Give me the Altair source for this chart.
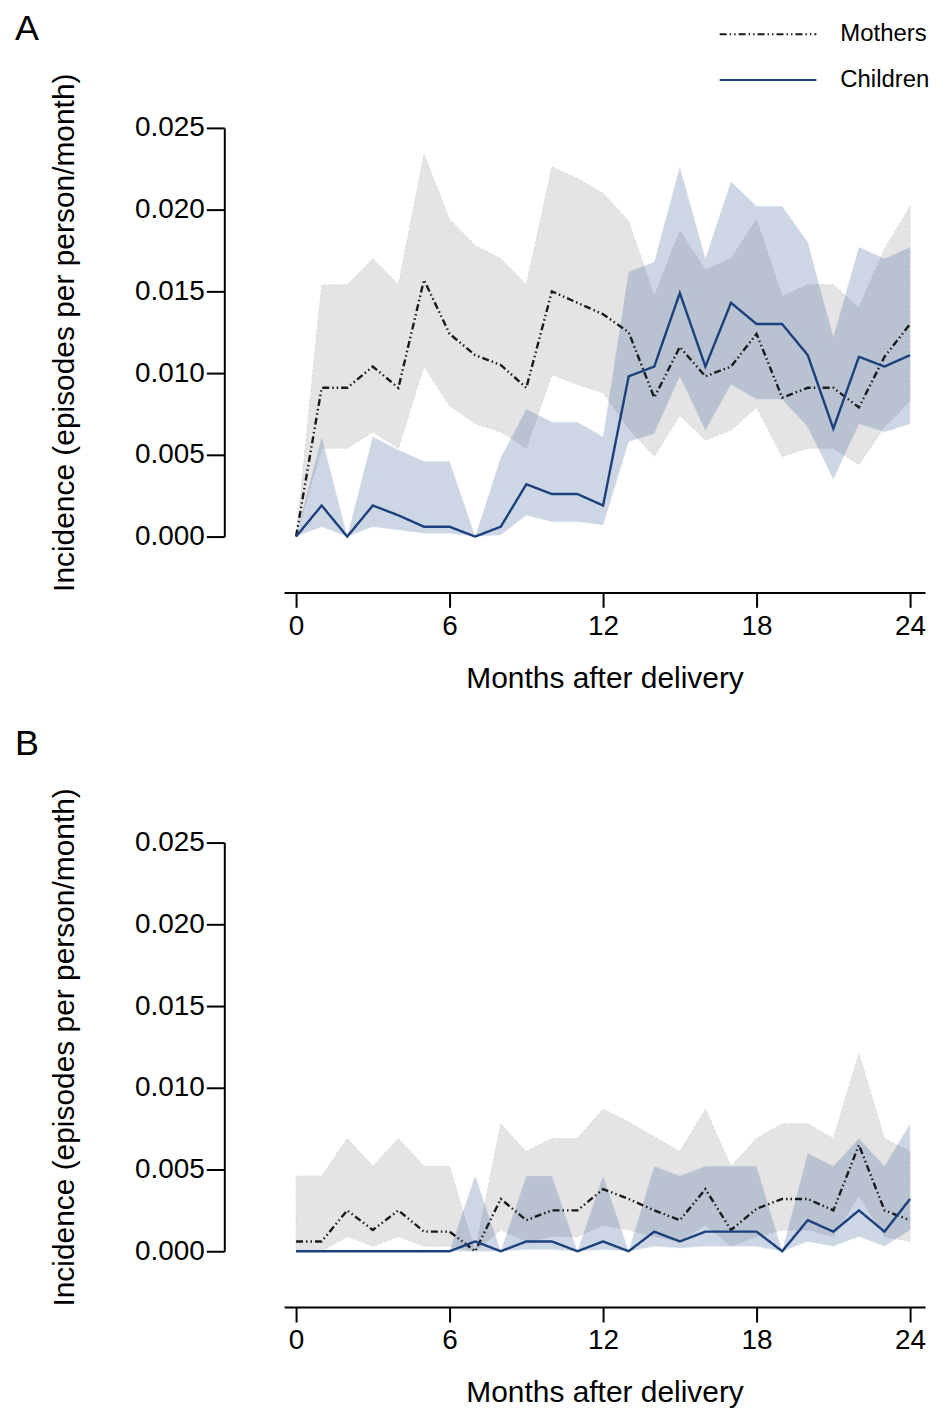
import altair as alt
import pandas as pd

months = list(range(25))
groups = ["Mothers", "Children"]
x_ticks = [0, 6, 12, 18, 24]
y_ticks = [0.0, 0.005, 0.010, 0.015, 0.020, 0.025]

# Panel A
a_mothers = [0, 0.0091, 0.0091, 0.0104, 0.0091, 0.0157, 0.0124, 0.0111, 0.0105, 0.0091, 0.0150, 0.0143, 0.0136,
             0.0125, 0.0085, 0.0116, 0.0098, 0.0104, 0.0124, 0.0085, 0.0091, 0.0091, 0.0079, 0.0110, 0.0130]
a_mothers_hi = [0, 0.0154, 0.0154, 0.0170, 0.0154, 0.0234, 0.0194, 0.0178, 0.0170, 0.0154, 0.0226, 0.0219, 0.0210,
                0.0193, 0.0147, 0.0187, 0.0163, 0.0170, 0.0194, 0.0147, 0.0154, 0.0154, 0.0140, 0.0176, 0.0202]
a_mothers_lo = [0, 0.0054, 0.0054, 0.0064, 0.0054, 0.0104, 0.0080, 0.0069, 0.0064, 0.0054, 0.0099, 0.0093, 0.0088,
                0.0066, 0.0049, 0.0074, 0.0059, 0.0065, 0.0079, 0.0049, 0.0054, 0.0054, 0.0044, 0.0067, 0.0083]
a_children = [0, 0.0019, 0, 0.0019, 0.0013, 0.0006, 0.0006, 0, 0.0006, 0.0032, 0.0026, 0.0026, 0.0019,
              0.0098, 0.0104, 0.0149, 0.0104, 0.0143, 0.0130, 0.0130, 0.0111, 0.0066, 0.0110, 0.0104, 0.0111]
a_children_hi = [0, 0.0061, 0, 0.0061, 0.0053, 0.0046, 0.0046, 0, 0.0048, 0.0078, 0.0070, 0.0070, 0.0061,
                 0.0162, 0.0168, 0.0226, 0.0170, 0.0217, 0.0202, 0.0202, 0.0180, 0.0122, 0.0177, 0.0170, 0.0177]
a_children_lo = [0, 0.0006, 0, 0.0006, 0.0004, 0.0002, 0.0002, 0, 0.0001, 0.0013, 0.0009, 0.0009, 0.0007,
                 0.0058, 0.0063, 0.0098, 0.0065, 0.0093, 0.0084, 0.0084, 0.0067, 0.0035, 0.0069, 0.0064, 0.0069]

# Panel B
b_mothers = [0.0006, 0.0006, 0.0025, 0.0013, 0.0025, 0.0012, 0.0012, 0, 0.0032, 0.0019, 0.0025, 0.0025, 0.0038,
             0.0032, 0.0025, 0.0019, 0.0038, 0.0013, 0.0026, 0.0032, 0.0032, 0.0025, 0.0065, 0.0025, 0.0019]
b_mothers_hi = [0.0046, 0.0046, 0.0069, 0.0052, 0.0069, 0.0052, 0.0052, 0, 0.0078, 0.0061, 0.0069, 0.0069, 0.0087,
                0.0079, 0.0070, 0.0061, 0.0087, 0.0052, 0.0069, 0.0078, 0.0078, 0.0069, 0.0121, 0.0069, 0.0061]
b_mothers_lo = [0, 0, 0.0009, 0.0003, 0.0009, 0.0003, 0.0003, 0, 0.0013, 0.0006, 0.0009, 0.0009, 0.0016,
                0.0013, 0.0009, 0.0006, 0.0016, 0.0003, 0.0009, 0.0013, 0.0013, 0.0009, 0.0034, 0.0009, 0.0006]
b_children = [0, 0, 0, 0, 0, 0, 0, 0.0006, 0, 0.0006, 0.0006, 0, 0.0006,
              0, 0.0012, 0.0006, 0.0012, 0.0012, 0.0012, 0, 0.0019, 0.0012, 0.0025, 0.0012, 0.0032]
b_children_hi = [0, 0, 0, 0, 0, 0, 0, 0.0046, 0, 0.0046, 0.0046, 0, 0.0046,
                 0, 0.0052, 0.0046, 0.0052, 0.0052, 0.0052, 0, 0.0060, 0.0052, 0.0069, 0.0052, 0.0078]
b_children_lo = [0, 0, 0, 0, 0, 0, 0, 0, 0, 0.0001, 0.0001, 0, 0.0001,
                 0, 0.0003, 0.0002, 0.0003, 0.0003, 0.0003, 0, 0.0006, 0.0003, 0.0009, 0.0003, 0.0013]

FONT = "Liberation Sans"
W, H = 643, 410


def make_df(m, mlo, mhi, c, clo, chi):
    rows = []
    for i in months:
        rows.append(dict(month=i, group="Mothers", value=m[i], lo=mlo[i], hi=mhi[i]))
    for i in months:
        rows.append(dict(month=i, group="Children", value=c[i], lo=clo[i], hi=chi[i]))
    return pd.DataFrame(rows)


def xenc():
    return alt.X("month:Q",
                 scale=alt.Scale(domain=[-0.4675, 24.584], nice=False, zero=False),
                 axis=alt.Axis(values=x_ticks, title="Months after delivery", offset=56,
                               tickSize=15, labelPadding=5, titlePadding=23, format="d"))


def yenc(field):
    return alt.Y(field,
                 scale=alt.Scale(domain=[0, 0.025], nice=False),
                 axis=alt.Axis(values=y_ticks, format=".3f", title="Incidence (episodes per person/month)",
                               offset=60, tickSize=18, labelPadding=2, titlePadding=55))


def panel(letter, df, show_legend):
    base = alt.Chart(df)
    band_m = base.transform_filter(alt.datum.group == "Mothers").mark_area(
        color="#e4e4e4", opacity=1, interpolate="linear",
        stroke="#cfcfcf", strokeWidth=0.6, strokeDash=[3, 2]
    ).encode(x=xenc(), y=yenc("lo:Q"), y2="hi:Q")
    band_c = base.transform_filter(alt.datum.group == "Children").mark_area(
        color="#3f659b", opacity=0.26, interpolate="linear",
        stroke="#9fb2cb", strokeWidth=0.6, strokeDash=[3, 2], strokeOpacity=0.8
    ).encode(x=xenc(), y=yenc("lo:Q"), y2="hi:Q")

    if show_legend:
        leg = alt.Legend(title=None, orient="none", legendX=436, legendY=-107,
                         symbolType="stroke", symbolSize=9409, symbolStrokeWidth=2,
                         clipHeight=26, rowPadding=20, labelOffset=23, labelFontSize=24,
                         labelFont=FONT, labelColor="black", padding=0)
        leg2 = leg
    else:
        leg = None
        leg2 = None

    lines = base.mark_line(strokeWidth=2.4).encode(
        x=xenc(), y=yenc("value:Q"),
        color=alt.Color("group:N", scale=alt.Scale(domain=groups, range=["#1a1a1a", "#1c3f7e"]), legend=leg),
        strokeDash=alt.StrokeDash("group:N",
                                  scale=alt.Scale(domain=groups, range=[[7, 3, 1.5, 3, 1.5, 3], [1, 0]]),
                                  legend=leg2),
        order=alt.Order("month:Q"),
    )
    lab = alt.Chart(pd.DataFrame({"label": [letter]})).mark_text(
        font=FONT, fontSize=36, align="left", baseline="alphabetic", color="black"
    ).encode(text="label:N", x=alt.value(-270), y=alt.value(-88))

    return alt.layer(band_m, band_c, lines, lab).properties(width=W, height=H)


dfA = make_df(a_mothers, a_mothers_lo, a_mothers_hi, a_children, a_children_lo, a_children_hi)
dfB = make_df(b_mothers, b_mothers_lo, b_mothers_hi, b_children, b_children_lo, b_children_hi)

chart = alt.vconcat(panel("A", dfA, True), panel("B", dfB, False), spacing=307, bounds="flush").resolve_scale(
    color="independent", strokeDash="independent"
).resolve_legend(color="independent", strokeDash="independent").properties(
    padding={"left": 7, "top": 1, "right": 5, "bottom": 5}
).configure_view(stroke=None).configure_axis(
    grid=False, domainColor="black", domainWidth=2, tickColor="black", tickWidth=2,
    labelFont=FONT, labelFontSize=28, labelColor="black",
    titleFont=FONT, titleFontSize=30, titleFontWeight="normal", titleColor="black"
)

chart.save("out.html", embed_options={"renderer": "svg", "actions": False})
